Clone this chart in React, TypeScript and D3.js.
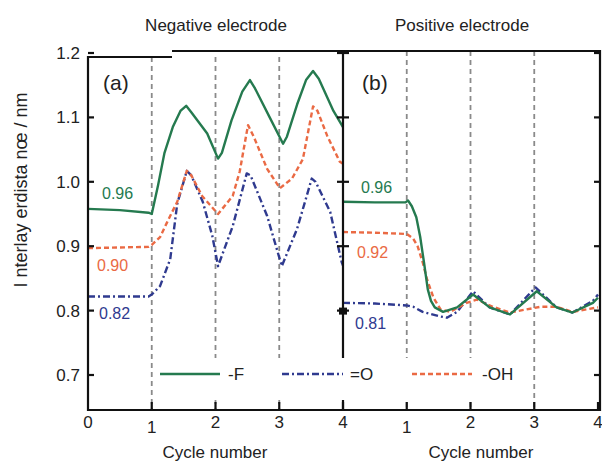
import * as d3 from "d3";
import React from "react";

// cycle number vs interlayer distance (nm)
const negF: [number, number][] = [
  [0, 0.958], [0.5, 0.956], [0.95, 0.952], [1.0, 0.95], [1.1, 0.995], [1.2, 1.045],
  [1.33, 1.085], [1.45, 1.11], [1.54, 1.118], [1.62, 1.108], [1.87, 1.075], [2.04, 1.036],
  [2.1, 1.045], [2.25, 1.095], [2.42, 1.14], [2.54, 1.158], [2.62, 1.145], [2.85, 1.1], [3.06, 1.059],
  [3.12, 1.07], [3.28, 1.12], [3.42, 1.158], [3.53, 1.172], [3.62, 1.16], [3.85, 1.11], [4.0, 1.085],
];
const negOH: [number, number][] = [
  [0, 0.897], [0.95, 0.899], [1.0, 0.902], [1.13, 0.914], [1.24, 0.937], [1.4, 0.969],
  [1.55, 1.017], [1.62, 1.01], [1.79, 0.978], [2.04, 0.95], [2.27, 0.978], [2.38, 1.016], [2.51, 1.088],
  [2.6, 1.07], [2.81, 1.02], [3.01, 0.99], [3.2, 1.005], [3.37, 1.035], [3.53, 1.117], [3.6, 1.11],
  [3.75, 1.072], [3.95, 1.031], [4.0, 1.028],
];
const negO: [number, number][] = [
  [0, 0.822], [0.95, 0.822], [1.0, 0.825], [1.13, 0.838], [1.29, 0.88], [1.4, 0.966],
  [1.55, 1.017], [1.62, 1.01], [1.8, 0.969], [1.95, 0.916], [2.04, 0.869], [2.27, 0.931], [2.49, 1.013],
  [2.55, 1.01], [2.81, 0.947], [3.04, 0.869], [3.28, 0.927], [3.51, 1.005], [3.57, 1.0], [3.8, 0.953],
  [3.98, 0.875], [4.0, 0.87],
];
const posF: [number, number][] = [
  [0, 0.969], [0.5, 0.968], [0.98, 0.968], [1.02, 0.971], [1.08, 0.962], [1.15, 0.945],
  [1.21, 0.915], [1.27, 0.875], [1.33, 0.833], [1.38, 0.815], [1.44, 0.805], [1.57, 0.798], [1.79, 0.805],
  [2.04, 0.825], [2.3, 0.805], [2.62, 0.794], [3.04, 0.83], [3.35, 0.805], [3.6, 0.797], [3.92, 0.812],
  [4.0, 0.82],
];
const posOH: [number, number][] = [
  [0, 0.922], [0.5, 0.921], [1.0, 0.919], [1.1, 0.912], [1.17, 0.9], [1.25, 0.875], [1.32, 0.848],
  [1.42, 0.82], [1.53, 0.802], [1.68, 0.798], [1.94, 0.812], [2.1, 0.817], [2.35, 0.806],
  [2.62, 0.797], [3.1, 0.806], [3.35, 0.806], [3.6, 0.798], [4.0, 0.805],
];
const posO: [number, number][] = [
  [0, 0.812], [0.5, 0.811], [1.0, 0.808], [1.1, 0.806], [1.25, 0.798], [1.52, 0.791], [1.63, 0.789],
  [1.79, 0.798], [2.04, 0.83], [2.3, 0.805], [2.62, 0.794], [3.02, 0.836], [3.35, 0.805],
  [3.6, 0.797], [3.92, 0.815], [4.0, 0.825],
];

const xTicks = [1, 2, 3, 4];
const yTicks = [0.7, 0.8, 0.9, 1.0, 1.1, 1.2];
const gridCycles = [1, 2, 3];

const GREEN = "#257a4f";
const ORANGE = "#ea6a44";
const BLUE = "#2f3a8f";
const FONT = "'Liberation Sans', Arial, sans-serif";

export default function App() {
  const xNeg = d3.scaleLinear().domain([0, 4]).range([88, 343]);
  const xPos = d3.scaleLinear().domain([0, 4]).range([343, 598]);
  const y = d3.scaleLinear().domain([0.7, 1.2]).range([375, 53]);
  const bottom = 410;

  const mk = (x: d3.ScaleLinear<number, number>) =>
    d3
      .line<[number, number]>()
      .x((d) => x(d[0]))
      .y((d) => y(d[1]));
  const lNeg = mk(xNeg);
  const lPos = mk(xPos);

  const series = [
    { neg: negO, pos: posO, color: BLUE, dash: "7,3,2,3" },
    { neg: negOH, pos: posOH, color: ORANGE, dash: "5,3" },
    { neg: negF, pos: posF, color: GREEN, dash: null },
  ];

  return (
    <svg
      width={602}
      height={464}
      style={{ position: "absolute", left: 0, top: 0, background: "#fff" }}
      fontFamily={FONT}
    >
      <defs>
        <clipPath id="cNeg">
          <rect x={88} y={50} width={255} height={bottom - 50} />
        </clipPath>
        <clipPath id="cPos">
          <rect x={343} y={50} width={257} height={bottom - 50} />
        </clipPath>
      </defs>

      {/* dashed cycle boundaries */}
      {gridCycles.map((c) => (
        <g key={c} stroke="#8a8a8a" strokeWidth={1.8} strokeDasharray="5,4">
          <line x1={xNeg(c)} x2={xNeg(c)} y1={57} y2={bottom} />
          <line x1={xPos(c)} x2={xPos(c)} y1={51} y2={bottom} />
        </g>
      ))}

      {/* curves */}
      <g clipPath="url(#cNeg)" strokeLinejoin="round">
        {series.map((s, i) => (
          <path key={i} d={lNeg(s.neg) || ""} fill="none" stroke={s.color}
            strokeWidth={2.4} strokeDasharray={s.dash || undefined} />
        ))}
      </g>
      <g clipPath="url(#cPos)" strokeLinejoin="round">
        {series.map((s, i) => (
          <path key={i} d={lPos(s.pos) || ""} fill="none" stroke={s.color}
            strokeWidth={2.4} strokeDasharray={s.dash || undefined} />
        ))}
      </g>

      {/* frame */}
      <g stroke="#111" strokeWidth={2.2} fill="none">
        <line x1={88} x2={88} y1={56} y2={bottom + 1} />
        <line x1={87} x2={600} y1={bottom} y2={bottom} />
        <line x1={87} x2={172} y1={57} y2={57} />
        <line x1={172} x2={601} y1={51} y2={51} />
        <line x1={600} x2={600} y1={50} y2={bottom + 1} />
        <line x1={343} x2={343} y1={50} y2={bottom + 1} />
        {yTicks.map((t) => (
          <g key={t}>
            <line x1={88} x2={94} y1={y(t)} y2={y(t)} />
            <line x1={337} x2={349} y1={y(t)} y2={y(t)} />
            <line x1={594} x2={600} y1={y(t)} y2={y(t)} />
          </g>
        ))}
        {xTicks.map((t) => (
          <g key={t}>
            <line x1={xNeg(t)} x2={xNeg(t)} y1={bottom} y2={bottom - 8} />
            <line x1={xPos(t)} x2={xPos(t)} y1={bottom} y2={bottom - 8} />
          </g>
        ))}
      </g>
      <rect x={339} y={y(0.8) - 3} width={8} height={7} fill="#111" />

      {/* legend (opaque box) */}
      <rect x={155} y={358} width={373} height={42} fill="#fff" />
      <g strokeWidth={2.4}>
        <line x1={160} x2={220} y1={374} y2={374} stroke={GREEN} />
        <line x1={282} x2={343} y1={374} y2={374} stroke={BLUE} strokeDasharray="7,3,2,3" />
        <line x1={412} x2={472} y1={374} y2={374} stroke={ORANGE} strokeDasharray="5,3" />
      </g>
      <g fontSize={17} fill="#222">
        <text x={228} y={380}>-F</text>
        <text x={350} y={380}>=O</text>
        <text x={482} y={380}>-OH</text>
      </g>

      {/* tick labels */}
      <g fontSize={17} fill="#222">
        {yTicks.map((t) => (
          <text key={t} x={80} y={y(t) + 6} textAnchor="end">{t.toFixed(1)}</text>
        ))}
        <text x={xNeg(0)} y={428} textAnchor="middle">0</text>
        {xTicks.map((t) => (
          <g key={t}>
            <text x={xNeg(t)} y={t === 1 ? 433 : 428} textAnchor="middle">{t}</text>
            <text x={xPos(t)} y={t === 1 ? 433 : 428} textAnchor="middle">{t}</text>
          </g>
        ))}
      </g>

      {/* value annotations */}
      <g fontSize={16}>
        <text x={102} y={199} fill={GREEN}>0.96</text>
        <text x={97} y={271} fill={ORANGE}>0.90</text>
        <text x={99} y={319} fill={BLUE}>0.82</text>
        <text x={361} y={193} fill={GREEN}>0.96</text>
        <text x={357} y={258} fill={ORANGE}>0.92</text>
        <text x={355} y={329} fill={BLUE}>0.81</text>
      </g>

      {/* panel labels and titles */}
      <g fontSize={21} fill="#222">
        <text x={103} y={90}>(a)</text>
        <text x={362} y={90}>(b)</text>
      </g>
      <g fontSize={17} fill="#222" textAnchor="middle">
        <text x={216} y={31}>Negative electrode</text>
        <text x={462} y={31}>Positive electrode</text>
        <text x={215} y={458}>Cycle number</text>
        <text x={481} y={458}>Cycle number</text>
        <text transform="translate(27,190) rotate(-90)" fontSize={18}>I nterlay erdista nœ / nm</text>
      </g>
    </svg>
  );
}
